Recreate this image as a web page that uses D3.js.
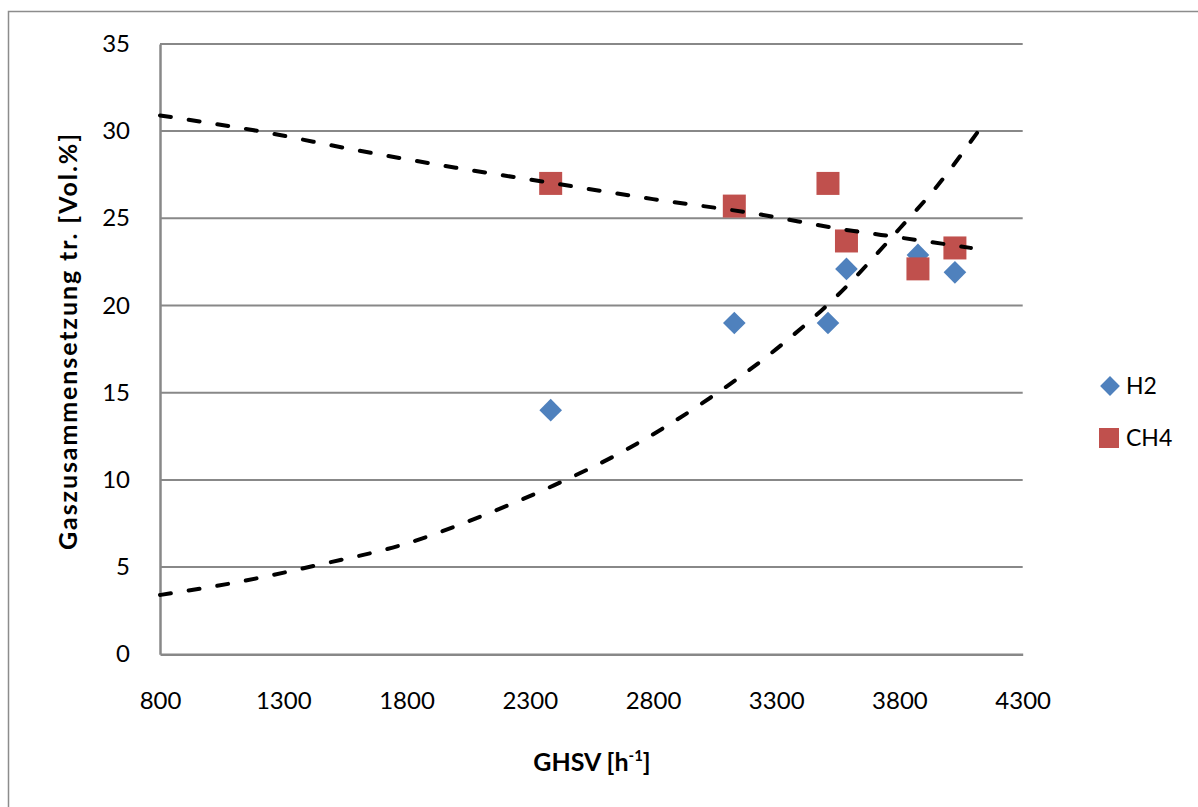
<!DOCTYPE html>
<html>
<head>
<meta charset="utf-8">
<script src="https://cdn.jsdelivr.net/npm/d3@7"></script>
<style>
  html, body { margin: 0; padding: 0; background: #fff; }
  svg { display: block; }
  text { font-family: Lato, "Open Sans", sans-serif; fill: #000; }
</style>
</head>
<body>
<svg id="chart" width="1198" height="807"></svg>
<script>
// ---- data ----
const ghsv      = [2385, 3130, 3510, 3585, 3875, 4025];
const h2Values  = [14.0, 19.0, 19.0, 22.1, 22.9, 21.9];
const ch4Values = [27.0, 25.7, 27.0, 23.7, 22.1, 23.3];

// dashed trend curves
const h2TrendX  = [800, 1100, 1450, 1800, 2100, 2400, 2700, 3000, 3300, 3550, 3800, 3950, 4120];
const h2TrendY  = [3.4, 4.1, 5.15, 6.35, 7.9, 9.7, 11.8, 14.4, 17.5, 20.6, 24.4, 26.8, 30.0];
const ch4TrendX = [800, 1200, 1600, 2000, 2400, 2800, 3200, 3600, 3800, 4090];
const ch4TrendY = [30.9, 30.0, 28.9, 27.9, 27.0, 26.1, 25.3, 24.3, 23.9, 23.3];

const xTicks = [800, 1300, 1800, 2300, 2800, 3300, 3800, 4300];
const yTicks = [0, 5, 10, 15, 20, 25, 30, 35];
const seriesNames = ["H2", "CH4"];
const xTitle = "GHSV [h";
const yTitle = "Gaszusammensetzung tr. [Vol.%]";

// ---- layout ----
const svg = d3.select("#chart");
const plot = { left: 160, right: 1022.7, top: 43.9, bottom: 654.3 };
const x = d3.scaleLinear().domain([800, 4300]).range([plot.left, plot.right]);
const y = d3.scaleLinear().domain([0, 35]).range([plot.bottom, plot.top]);

const blue = "#4F81BD", red = "#C0504D", grid = "#888888";

// outer frame
svg.append("rect").attr("x", 8.5).attr("y", 11.5).attr("width", 1240).attr("height", 850)
  .attr("fill", "none").attr("stroke", "#8c8c8c").attr("stroke-width", 1.5);

// gridlines
svg.append("g").selectAll("line").data(yTicks.filter(d => d > 0)).join("line")
  .attr("x1", plot.left).attr("x2", plot.right)
  .attr("y1", d => y(d)).attr("y2", d => y(d))
  .attr("stroke", grid).attr("stroke-width", 2);

// axes
const yAxis = d3.axisLeft(y).tickValues(yTicks).tickSize(0).tickPadding(30).tickFormat(d3.format("d"));
const gy = svg.append("g").attr("transform", `translate(${plot.left},0)`).call(yAxis);
gy.select(".domain").attr("stroke", grid).attr("stroke-width", 2.5);
gy.selectAll("text").attr("font-size", 24).attr("font-family", "Lato");

const xAxis = d3.axisBottom(x).tickValues(xTicks).tickSize(0).tickPadding(38).tickFormat(d3.format("d"));
const gx = svg.append("g").attr("transform", `translate(0,${plot.bottom})`).call(xAxis);
gx.select(".domain").attr("stroke", grid).attr("stroke-width", 2.5);
gx.selectAll("text").attr("font-size", 24).attr("font-family", "Lato");

// axis titles
const xt = svg.append("text").attr("x", 592).attr("y", 771).attr("text-anchor", "middle")
  .attr("font-size", 25).attr("font-weight", "bold");
xt.append("tspan").text(xTitle);
xt.append("tspan").attr("font-size", 15).attr("dy", -10).text("-1");
xt.append("tspan").attr("dy", 10).text("]");

svg.append("text").attr("transform", "translate(77,341) rotate(-90)")
  .attr("text-anchor", "middle").attr("font-size", 25).attr("font-weight", "bold")
  .attr("letter-spacing", 1.9)
  .text(yTitle);

// trend lines
const line = d3.line().x(d => x(d[0])).y(d => y(d[1])).curve(d3.curveMonotoneX);
function trend(xs, ys) {
  svg.append("path").datum(xs.map((v, i) => [v, ys[i]]))
    .attr("d", line).attr("fill", "none").attr("stroke", "#000")
    .attr("stroke-width", 4).attr("stroke-linecap", "round")
    .attr("stroke-dasharray", "11,18");
}

// markers
const diamond = d3.symbol().type(d3.symbolSquare).size(16 * 16);
const square = d3.symbol().type(d3.symbolSquare).size(23 * 23);

svg.append("g").selectAll("path").data(ghsv).join("path")
  .attr("d", diamond)
  .attr("transform", (d, i) => `translate(${x(d)},${y(h2Values[i])}) rotate(45)`)
  .attr("fill", blue);
svg.append("g").selectAll("path").data(ghsv).join("path")
  .attr("d", square)
  .attr("transform", (d, i) => `translate(${x(d)},${y(ch4Values[i])})`)
  .attr("fill", red);

trend(ch4TrendX, ch4TrendY);
trend(h2TrendX, h2TrendY);

// legend
const legend = svg.append("g");
const legendY = [386, 438];
legend.append("path").attr("d", d3.symbol().type(d3.symbolSquare).size(14 * 14))
  .attr("transform", `translate(1110,${legendY[0]}) rotate(45)`).attr("fill", blue);
legend.append("path").attr("d", d3.symbol().type(d3.symbolSquare).size(20 * 20))
  .attr("transform", `translate(1109,${legendY[1]})`).attr("fill", red);
legend.selectAll("text").data(seriesNames).join("text")
  .attr("x", 1126).attr("y", (d, i) => legendY[i]).attr("dy", "0.36em")
  .attr("font-size", 23).text(d => d);
</script>
</body>
</html>
